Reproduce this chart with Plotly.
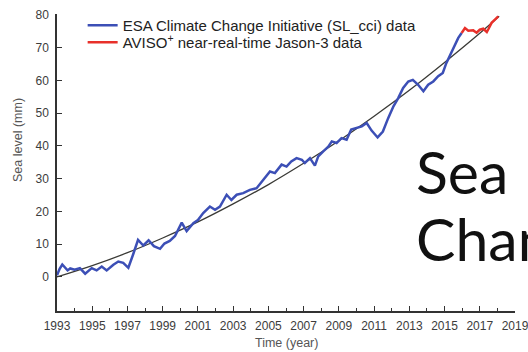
import plotly.graph_objects as go

# ESA CCI sea level record (mm), 1993 onward
esa_years = [1993.0, 1993.15, 1993.3, 1993.45, 1993.6, 1993.75, 1994.0, 1994.3, 1994.6, 1994.97,
             1995.25, 1995.54, 1995.82, 1996.2, 1996.48, 1996.76, 1997.05, 1997.33, 1997.6, 1997.9,
             1998.2, 1998.5, 1998.85, 1999.1, 1999.4, 1999.7, 2000.08, 2000.36, 2000.74, 2001.0,
             2001.3, 2001.68, 2001.97, 2002.25, 2002.63, 2002.9, 2003.2, 2003.57, 2003.95, 2004.33,
             2004.7, 2005.09, 2005.37, 2005.75, 2006.03, 2006.3, 2006.6, 2006.9, 2007.07, 2007.36,
             2007.64, 2007.83, 2008.1, 2008.4, 2008.6, 2008.87, 2009.15, 2009.44, 2009.7, 2010.0,
             2010.3, 2010.58, 2010.86, 2011.2, 2011.5, 2011.8, 2012.1, 2012.37, 2012.65, 2012.94,
             2013.2, 2013.5, 2013.8, 2014.07, 2014.36, 2014.64, 2014.9, 2015.1, 2015.4, 2015.6,
             2015.78, 2015.97]
esa_level = [0.5, 2.5, 3.8, 3.0, 2.0, 2.6, 2.2, 2.7, 1.0, 2.7,
             2.0, 3.2, 2.0, 3.7, 4.7, 4.3, 2.8, 7.0, 11.3, 9.6,
             11.2, 9.4, 8.6, 10.2, 11.0, 12.5, 16.6, 14.0, 16.4, 17.4,
             19.5, 21.5, 20.5, 21.5, 25.1, 23.5, 25.1, 25.6, 26.6, 27.1,
             29.5, 32.2, 31.7, 34.3, 33.7, 35.3, 36.3, 35.8, 34.8, 36.3,
             34.0, 36.8, 38.3, 39.8, 41.4, 40.9, 42.4, 41.9, 45.0, 45.5,
             46.0, 47.0, 44.7, 42.6, 44.4, 48.5, 52.1, 54.6, 57.7, 59.7,
             60.2, 58.7, 56.7, 58.7, 59.7, 61.3, 62.3, 65.3, 68.6, 70.5,
             73.0, 74.5]

# AVISO+ near-real-time Jason-3 extension (mm)
aviso_years = [2015.97, 2016.16, 2016.35, 2016.63, 2016.82, 2017.0, 2017.2, 2017.4, 2017.5,
               2017.67, 2017.86, 2018.05]
aviso_level = [74.5, 76.0, 75.2, 75.3, 74.6, 75.5, 75.8, 74.8, 75.8, 77.6, 78.6, 79.6]

# Smooth long-term trend (mm)
trend_years = [1993, 1995, 1997, 1999, 2001, 2003, 2005, 2007, 2009, 2011, 2013, 2015, 2017, 2018.1]
trend_level = [0.0, 3.45, 7.4, 11.9, 16.8, 22.3, 28.2, 34.7, 41.6, 49.1, 57.0, 65.5, 74.4, 79.6]

x_ticks = list(range(1993, 2020, 2))
y_ticks = list(range(0, 81, 10))

fig = go.Figure()
fig.add_trace(go.Scatter(x=trend_years, y=trend_level, mode="lines",
                         line=dict(color="#3a3a36", width=1.3, shape="spline"),
                         showlegend=False, hoverinfo="skip"))
fig.add_trace(go.Scatter(x=esa_years, y=esa_level, mode="lines",
                         name="ESA Climate Change Initiative (SL_cci) data",
                         line=dict(color="#3c4fb6", width=2.5), legend="legend"))
fig.add_trace(go.Scatter(x=aviso_years, y=aviso_level, mode="lines",
                         name="AVISO<sup>+</sup> near-real-time Jason-3 data",
                         line=dict(color="#e8302a", width=2.5), legend="legend2"))

sans = "Liberation Sans, Arial, sans-serif"
axis_font = dict(family=sans, size=12, color="#3c3c3c")
title_font = dict(family=sans, size=12.5, color="#555")
legend_style = dict(xanchor="left", yanchor="top", bgcolor="rgba(0,0,0,0)", borderwidth=0,
                    font=dict(family=sans, size=15, color="#222"), itemwidth=30)

fig.update_layout(
    width=528, height=352,
    margin=dict(l=57, r=13, t=14, b=41, autoexpand=False),
    paper_bgcolor="white", plot_bgcolor="white",
    font=dict(family=sans, color="#333"),
    legend=dict(x=0.056, y=1.017, **legend_style),
    legend2=dict(x=0.056, y=0.9596, **legend_style),
    xaxis=dict(range=[1993, 2019], tickvals=x_ticks, ticktext=[str(v) for v in x_ticks],
               ticks="inside", ticklen=5, tickwidth=1.2, tickcolor="#333",
               minor=dict(dtick=1, tick0=1993, ticks="inside", ticklen=3, tickcolor="#333"),
               showline=True, linecolor="#333", linewidth=1.5, showgrid=False, zeroline=False,
               tickfont=axis_font, ticklabelstandoff=3, ticklabeloverflow="allow",
               automargin=False),
    yaxis=dict(range=[-10.4, 80.3], tickvals=y_ticks,
               ticks="inside", ticklen=5, tickwidth=1.2, tickcolor="#333",
               showline=True, linecolor="#333", linewidth=1.5, showgrid=False, zeroline=False,
               tickfont=axis_font, ticklabelstandoff=4, automargin=False),
)

# Axis titles
fig.add_annotation(text="Time (year)", xref="paper", yref="paper", x=0.5, y=-0.108,
                   showarrow=False, xanchor="center", yanchor="middle", font=title_font)
fig.add_annotation(text="Sea level (mm)", xref="paper", yref="paper",
                   x=-0.085, y=0.576, textangle=-90, showarrow=False,
                   xanchor="center", yanchor="middle", font=title_font)

# Slide heading overlaid on the right
for txt, ypos in [("Sea Level", 0.469), ("Change", 0.245)]:
    fig.add_annotation(text=txt, xref="paper", yref="paper", x=0.78, y=ypos,
                       xanchor="left", yanchor="middle", showarrow=False,
                       font=dict(family="Lato, sans-serif", size=59, color="#111"))

fig.write_html("out.html")
